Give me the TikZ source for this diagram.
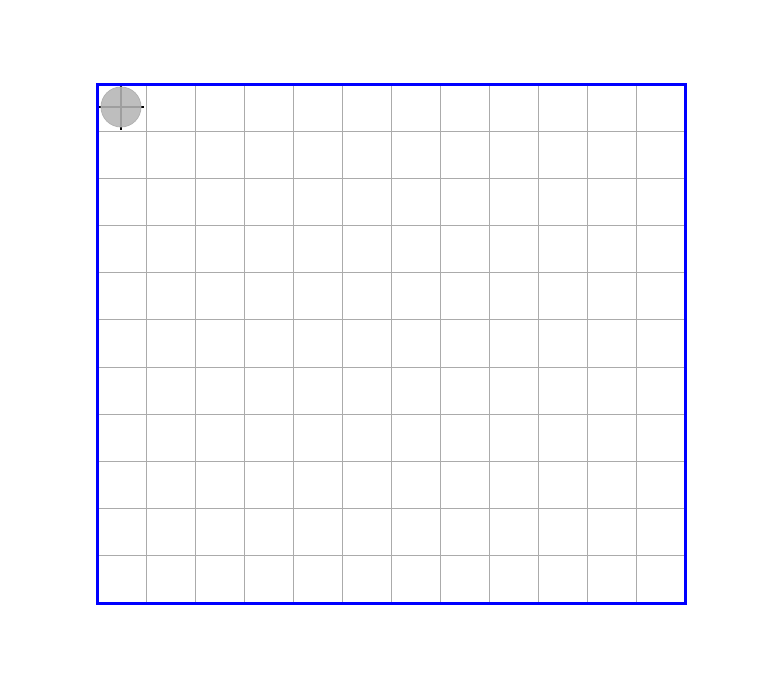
\documentclass[tikz,border=0pt]{standalone}
\begin{document}
\begin{tikzpicture}[x=1pt,y=-1pt,
  gridline/.style={draw=black!33,line width=0.9pt},
  frame/.style={draw=blue,line width=3pt},
  marker/.style={circle,minimum size=40pt,inner sep=0pt,fill=black!29,fill opacity=0.88,draw=black!30,line width=0.8pt}]
\useasboundingbox (0,0) rectangle (763,680);
\foreach \i in {1,...,11} {
  \draw[gridline] ({97+49*\i},84) -- ({97+49*\i},603);
}
\foreach \j in {1,...,10} {
  \draw[gridline] (97,{84+519/11*\j}) -- (685,{84+519/11*\j});
}
\coordinate (c) at (121,107);
\draw[black,line width=1.5pt] (98,107) -- (144,107);
\draw[black,line width=1.5pt] (121,84) -- (121,130);
\node[marker] (m) at (c) {};
\draw[frame] (97,84) rectangle (685,603);
\end{tikzpicture}
\end{document}
